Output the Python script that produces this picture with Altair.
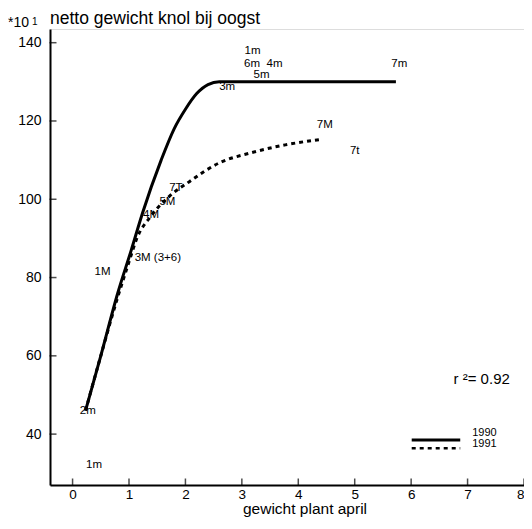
import altair as alt
import pandas as pd

# solid curve (1990)
x1990 = [0.23, 0.5, 0.8, 1.04, 1.24, 1.57, 1.8, 2.0, 2.2, 2.4, 2.6, 3.5, 4.5, 5.73]
y1990 = [46, 60, 76, 87, 96.5, 110, 118, 123, 127, 129.3, 130, 130, 130, 130]
# dashed curve (1991)
x1991 = [0.23, 0.5, 0.8, 1.0, 1.13, 1.39, 1.71, 2.07, 2.6, 3.17, 3.77, 4.41]
y1991 = [46, 60, 75, 84, 89.7, 95.7, 100.7, 104.5, 109.3, 111.9, 113.9, 115.3]

lab_text = ["1m", "6m", "4m", "5m", "3m", "7m", "7M", "7t", "7T", "5M", "4M",
            "3M (3+6)", "1M", "2m", "1m"]
lab_x = [3.19, 3.18, 3.58, 3.35, 2.74, 5.79, 4.47, 5.0, 1.83, 1.68, 1.39,
         1.10, 0.53, 0.27, 0.38]
lab_y = [138.0, 134.6, 134.6, 131.7, 128.6, 134.6, 119.0, 112.4, 102.9, 99.2, 96.1,
         85.1, 81.4, 45.8, 32.0]
lab_align = ["center", "center", "center", "center", "center", "center", "center",
             "center", "center", "center", "center", "left", "center", "center", "center"]

x_ticks = [0, 1, 2, 3, 4, 5, 6, 7, 8]
y_ticks = [40, 60, 80, 100, 120, 140]

r2_x, r2_y = [7.25], [54.2]

leg_years = ["1990", "1991"]
leg_x = [6.01, 6.87]
leg_line_y = [38.5, 36.4]
leg_text_y = [40.3, 37.4]

X_DOM = [-0.4, 8]
Y_DOM = [27, 143.5]

xs = alt.Scale(domain=X_DOM, nice=False, zero=False)
ys = alt.Scale(domain=Y_DOM, nice=False, zero=False)

FONT = "Liberation Sans"
W, H = 474, 456

df90 = pd.DataFrame({"x": x1990, "y": y1990})
df91 = pd.DataFrame({"x": x1991, "y": y1991})

base_axes = alt.Chart(pd.DataFrame({"x": [X_DOM[0]], "y": [Y_DOM[0]]})).mark_point(opacity=0).encode(
    x=alt.X("x:Q", scale=xs,
            axis=alt.Axis(values=x_ticks, format="d", ticks=False, grid=False, domainColor="black",
                          domainWidth=2, labelFont=FONT, labelFontSize=13.5, labelColor="black",
                          labelPadding=2, labelFlush=True, title=None)),
    y=alt.Y("y:Q", scale=ys,
            axis=alt.Axis(values=y_ticks, format="d", ticks=False, grid=False, domainColor="black",
                          domainWidth=2, labelFont=FONT, labelFontSize=14, labelColor="black",
                          labelPadding=9, title=None)),
)

xt = alt.Chart(pd.DataFrame({"x": x_ticks})).mark_tick(
    orient="vertical", size=7, thickness=1.5, color="black", yOffset=-3
).encode(x=alt.X("x:Q", scale=xs), y=alt.datum(Y_DOM[0], scale=ys))

yt = alt.Chart(pd.DataFrame({"y": y_ticks})).mark_tick(
    orient="horizontal", size=7, thickness=1.5, color="black", xOffset=3
).encode(y=alt.Y("y:Q", scale=ys), x=alt.datum(X_DOM[0], scale=xs))

line90 = alt.Chart(df90).mark_line(color="black", strokeWidth=3, interpolate="monotone").encode(
    x=alt.X("x:Q", scale=xs), y=alt.Y("y:Q", scale=ys), order="x:Q")
line91 = alt.Chart(df91).mark_line(color="black", strokeWidth=3, strokeDash=[4, 4],
                                   interpolate="monotone").encode(
    x=alt.X("x:Q", scale=xs), y=alt.Y("y:Q", scale=ys), order="x:Q")

labs = pd.DataFrame({"t": lab_text, "x": lab_x, "y": lab_y, "a": lab_align})
lab_c = alt.Chart(labs[labs.a == "center"]).mark_text(
    font=FONT, fontSize=11.5, color="black", align="center", baseline="middle"
).encode(x=alt.X("x:Q", scale=xs), y=alt.Y("y:Q", scale=ys), text="t:N")
lab_l = alt.Chart(labs[labs.a == "left"]).mark_text(
    font=FONT, fontSize=11.5, color="black", align="left", baseline="middle"
).encode(x=alt.X("x:Q", scale=xs), y=alt.Y("y:Q", scale=ys), text="t:N")

r2 = alt.Chart(pd.DataFrame({"x": r2_x, "y": r2_y, "t": ["r ²= 0.92"]})).mark_text(
    font=FONT, fontSize=15, color="black", align="center", baseline="middle"
).encode(x=alt.X("x:Q", scale=xs), y=alt.Y("y:Q", scale=ys), text="t:N")

leg = pd.DataFrame({"year": leg_years, "x": [leg_x[0]] * 2, "x2": [leg_x[1]] * 2,
                    "y": leg_line_y, "ty": leg_text_y})
leg_solid = alt.Chart(leg[leg.year == "1990"]).mark_rule(color="black", strokeWidth=3).encode(
    x=alt.X("x:Q", scale=xs), x2="x2:Q", y=alt.Y("y:Q", scale=ys))
leg_dash = alt.Chart(leg[leg.year == "1991"]).mark_rule(color="black", strokeWidth=2.5,
                                                        strokeDash=[4, 4]).encode(
    x=alt.X("x:Q", scale=xs), x2="x2:Q", y=alt.Y("y:Q", scale=ys))
leg_txt = alt.Chart(leg).mark_text(font=FONT, fontSize=11, color="black", align="left",
                                   baseline="middle", dx=12).encode(
    x=alt.X("x2:Q", scale=xs), y=alt.Y("ty:Q", scale=ys), text="year:N")

title_t = alt.Chart(pd.DataFrame({"t": ["netto gewicht knol bij oogst"]})).mark_text(
    font=FONT, fontSize=17.5, color="black", align="left", baseline="alphabetic"
).encode(x=alt.value(0), y=alt.value(-5), text="t:N")
unit_t = alt.Chart(pd.DataFrame({"t": ["*10"]})).mark_text(
    font=FONT, fontSize=14, color="black", align="left", baseline="alphabetic"
).encode(x=alt.value(-42), y=alt.value(-2), text="t:N")
unit_sup = alt.Chart(pd.DataFrame({"t": ["1"]})).mark_text(
    font=FONT, fontSize=10, color="black", align="left", baseline="alphabetic"
).encode(x=alt.value(-18), y=alt.value(-4), text="t:N")
xtitle = alt.Chart(pd.DataFrame({"t": ["gewicht plant april"]})).mark_text(
    font=FONT, fontSize=15.5, color="black", align="center", baseline="alphabetic"
).encode(x=alt.value(255), y=alt.value(H + 29), text="t:N")

chart = alt.layer(
    base_axes, xt, yt, line90, line91, lab_c, lab_l, r2, leg_solid, leg_dash, leg_txt,
    title_t, unit_t, unit_sup, xtitle
).properties(
    width=W, height=H,
    autosize=alt.AutoSizeParams(type="none"),
    padding={"left": 42, "top": 21, "right": 0, "bottom": 32},
).configure_view(stroke=None).configure(background="white")

chart.save("out.html", embed_options={"renderer": "svg", "actions": False})
